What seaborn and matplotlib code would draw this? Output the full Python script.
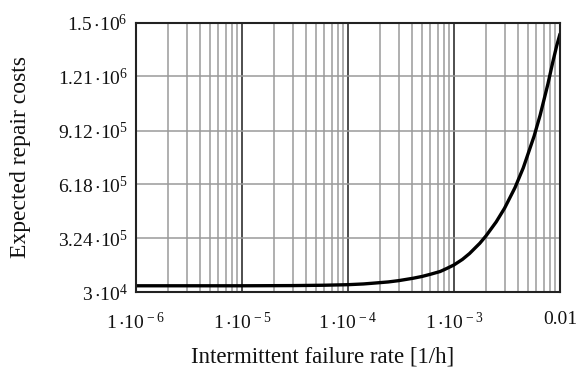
import matplotlib
matplotlib.use("Agg")
import matplotlib.pyplot as plt
import seaborn as sns
import pandas as pd
import numpy as np
from matplotlib.ticker import FixedLocator, LogLocator, NullFormatter

# ---- data ----
failure_rate = [1e-6, 3e-6, 1e-5, 3e-5, 6e-5, 1e-4, 1.4e-4, 1.8e-4, 2.4e-4, 3e-4, 4.1e-4,
                5e-4, 6e-4, 7.4e-4, 8.5e-4, 1e-3, 1.2e-3, 1.4e-3, 1.75e-3, 2e-3, 2.5e-3,
                3e-3, 3.76e-3, 4.5e-3, 5.7e-3, 6.5e-3, 7.7e-3, 8.5e-3, 9.3e-3, 1e-2]
repair_costs = [6.4e4, 6.4e4, 6.4e4, 6.5e4, 6.7e4, 7.0e4, 7.4e4, 7.9e4, 8.5e4, 9.2e4, 1.05e5,
                1.15e5, 1.27e5, 1.42e5, 1.58e5, 1.78e5, 2.08e5, 2.40e5, 2.96e5, 3.36e5, 4.13e5,
                4.88e5, 6.0e5, 7.08e5, 8.82e5, 9.97e5, 1.168e6, 1.28e6, 1.375e6, 1.44e6]

y_ticks = [3e4, 3.24e5, 6.18e5, 9.12e5, 1.21e6, 1.5e6]
y_tick_labels = [r"$\mathregular{3\,{\cdot}10^{4}}$", r"$\mathregular{3.24\,{\cdot}10^{5}}$",
                 r"$\mathregular{6.18\,{\cdot}10^{5}}$", r"$\mathregular{9.12\,{\cdot}10^{5}}$",
                 r"$\mathregular{1.21\,{\cdot}10^{6}}$", r"$\mathregular{1.5\,{\cdot}10^{6}}$"]
x_ticks = [1e-6, 1e-5, 1e-4, 1e-3, 1e-2]
x_tick_labels = [r"$\mathregular{1\,{\cdot}10^{\,-6}}$", r"$\mathregular{1\,{\cdot}10^{\,-5}}$",
                 r"$\mathregular{1\,{\cdot}10^{\,-4}}$", r"$\mathregular{1\,{\cdot}10^{\,-3}}$", "0.01"]

df = pd.DataFrame({"rate": failure_rate, "cost": repair_costs})

sns.set_theme(style="white")
plt.rcParams["font.family"] = ["Liberation Serif", "DejaVu Serif"]
plt.rcParams["mathtext.fontset"] = "custom"
plt.rcParams["mathtext.rm"] = "Liberation Serif"
plt.rcParams["mathtext.it"] = "Liberation Serif:italic"
plt.rcParams["mathtext.bf"] = "Liberation Serif:bold"

fig = plt.figure(figsize=(5.83, 3.75), dpi=100)
ax = fig.add_axes([136 / 583, 1 - 292 / 375, (560 - 136) / 583, (292 - 23) / 375])

ax.set_xscale("log")
ax.set_xlim(1e-6, 1e-2)
ax.set_ylim(3e4, 1.5e6)

# grid
ax.xaxis.set_major_locator(FixedLocator(x_ticks))
ax.xaxis.set_minor_locator(LogLocator(base=10, subs=np.arange(2, 10), numticks=50))
ax.xaxis.set_minor_formatter(NullFormatter())
ax.yaxis.set_major_locator(FixedLocator(y_ticks))
ax.grid(which="minor", axis="x", color="#9a9a9a", lw=1.1)
ax.grid(which="major", axis="x", color="#303030", lw=1.2)
ax.grid(which="major", axis="y", color="#9a9a9a", lw=1.1)
ax.set_axisbelow(True)

sns.lineplot(data=df, x="rate", y="cost", ax=ax, color="black", lw=2.4,
             estimator=None, sort=True)

ax.set_xticks(x_ticks)
ax.set_xticklabels(x_tick_labels)
ax.set_yticks(y_ticks)
ax.set_yticklabels(y_tick_labels)
ax.tick_params(axis="both", which="both", length=0, labelsize=14, colors="#111111")
ax.tick_params(axis="x", pad=14)
ax.tick_params(axis="y", pad=6)

for s in ax.spines.values():
    s.set_visible(True)
    s.set_color("#222222")
    s.set_linewidth(1.5)

ax.set_xlabel("Intermittent failure rate [1/h]", fontsize=16.5, color="#111111", va="center")
ax.xaxis.set_label_coords(0.44, -0.242)
ax.set_ylabel("Expected repair costs", fontsize=17, color="#111111", va="center")
ax.yaxis.set_label_coords(-0.272, 0.5)

fig.savefig("out.png", dpi=100, facecolor="white")
